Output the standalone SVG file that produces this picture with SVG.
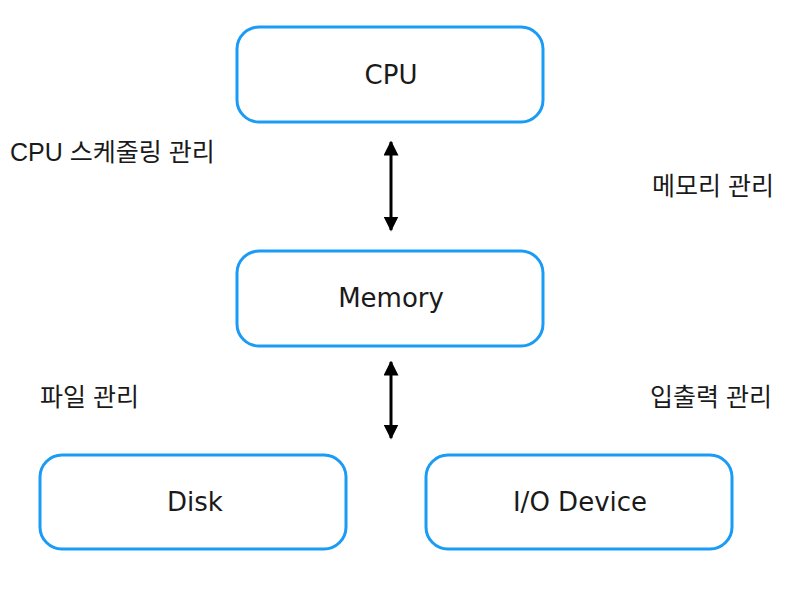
<svg xmlns="http://www.w3.org/2000/svg" width="804" height="599" viewBox="0 0 804 599">
<defs>
<style>
.box{fill:#fff;stroke:#1a9bf6;stroke-width:3}
.t{font-family:"DejaVu Sans","Noto Sans",sans-serif;font-size:26px;fill:#1a1a1a;text-anchor:middle;dominant-baseline:central}
.lbl{font-family:"Liberation Sans","Noto Sans CJK KR",sans-serif;font-size:25px;fill:#1a1a1a}
.ar{stroke:#000;stroke-width:3;fill:none}
</style>
<marker id="ah" viewBox="0 0 10 10" refX="9" refY="5" markerWidth="5" markerHeight="5" markerUnits="strokeWidth" orient="auto-start-reverse">
<path d="M0,0 L10,5 L0,10 z" fill="#000"/>
</marker>
</defs>
<rect width="804" height="599" fill="#fff"/>
<g id="cpu"><rect class="box" x="237" y="27" width="306" height="95" rx="22"/><text class="t" x="391" y="75">CPU</text></g>
<g id="memory"><rect class="box" x="237" y="251" width="306" height="95" rx="22"/><text class="t" x="391" y="298">Memory</text></g>
<g id="disk"><rect class="box" x="40" y="455" width="306" height="94" rx="22"/><text class="t" x="195" y="502">Disk</text></g>
<g id="io"><rect class="box" x="426" y="455" width="306" height="94" rx="22"/><text class="t" x="580" y="502">I/O Device</text></g>
<g id="connectors">
<line class="ar" x1="391" y1="142" x2="391" y2="230" marker-start="url(#ah)" marker-end="url(#ah)"/>
<line class="ar" x1="391" y1="362" x2="391" y2="438" marker-start="url(#ah)" marker-end="url(#ah)"/>
</g>
<g id="labels">
<text class="lbl" x="10" y="161">CPU 스케줄링 관리</text>
<text class="lbl" x="652" y="195">메모리 관리</text>
<text class="lbl" x="40" y="406">파일 관리</text>
<text class="lbl" x="650" y="406">입출력 관리</text>
</g>
</svg>
